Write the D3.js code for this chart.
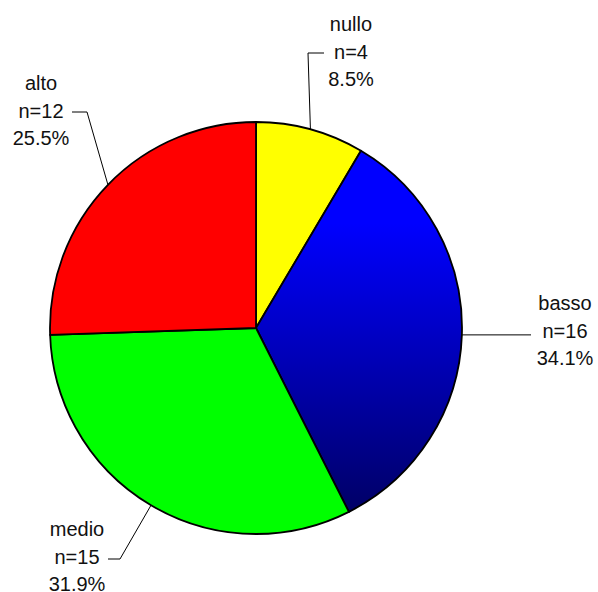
<!DOCTYPE html>
<html>
<head>
<meta charset="utf-8">
<script src="https://cdn.jsdelivr.net/npm/d3@7"></script>
<style>
  body { margin: 0; background: #fff; }
  text { font-family: "Liberation Sans", Arial, sans-serif; fill: #111; }
</style>
</head>
<body>
<div id="chart"></div>
<script>
// data
var categories = ["nullo", "basso", "medio", "alto"];
var counts = [4, 16, 15, 12];
var percents = ["8.5%", "34.1%", "31.9%", "25.5%"];
var colours = ["#ffff00", "url(#bluegrad)", "#00ff00", "#ff0000"];

// label layout: text centre x, first baseline y, leader elbow [x, y], leader end x
var labelPos = [
  { tx: 351, ty: 31,  elbow: [308, 53],  end: 324 },
  { tx: 565, ty: 310, elbow: null,       end: 531 },
  { tx: 77,  ty: 536, elbow: [120, 559], end: 108 },
  { tx: 41,  ty: 90,  elbow: [87, 112],  end: 72 }
];

var W = 598, H = 592,
  cx = 256, cy = 328, r = 206,
  lineH = 27.5;

var svg = d3.select("#chart").append("svg")
  .attr("xmlns", "http://www.w3.org/2000/svg")
  .attr("width", W)
  .attr("height", H);

var defs = svg.append("defs");
var grad = defs.append("linearGradient")
  .attr("id", "bluegrad")
  .attr("x1", "0").attr("y1", "0")
  .attr("x2", "0").attr("y2", "1");
grad.append("stop").attr("offset", "0").style("stop-color", "#0000ff");
grad.append("stop").attr("offset", "0.2").style("stop-color", "#0000ff");
grad.append("stop").attr("offset", "1").style("stop-color", "#000066");

var pie = d3.pie().sort(null).value(function(d) { return d; });
var arcs = pie(counts);

var arc = d3.arc().innerRadius(0).outerRadius(r);

var g = svg.append("g")
  .attr("transform", "translate(" + cx + "," + cy + ")");

g.selectAll("path.slice")
  .data(arcs)
  .enter()
  .append("path")
  .attr("class", "slice")
  .attr("d", arc)
  .style("fill", function(d, i) { return colours[i]; })
  .attr("stroke", "#000")
  .attr("stroke-width", 1.8)
  .attr("stroke-linejoin", "round");

// leaders
arcs.forEach(function(d, i) {
  var a = (d.startAngle + d.endAngle) / 2;
  var sx = cx + r * Math.sin(a),
    sy = cy - r * Math.cos(a);
  var p = labelPos[i];
  var pts;
  if (p.elbow) {
    pts = [[sx, sy], p.elbow, [p.end, p.elbow[1]]];
  } else {
    pts = [[sx, sy], [p.end, sy]];
  }
  svg.append("path")
    .attr("d", d3.line()(pts))
    .attr("fill", "none")
    .attr("stroke", "#000")
    .attr("stroke-width", 1);

  var lines = [categories[i], "n=" + counts[i], percents[i]];
  var t = svg.append("text")
    .attr("text-anchor", "middle")
    .attr("font-size", "20px");
  lines.forEach(function(s, k) {
    t.append("tspan")
      .attr("x", p.tx)
      .attr("y", p.ty + k * lineH)
      .text(s);
  });
});
</script>
</body>
</html>
